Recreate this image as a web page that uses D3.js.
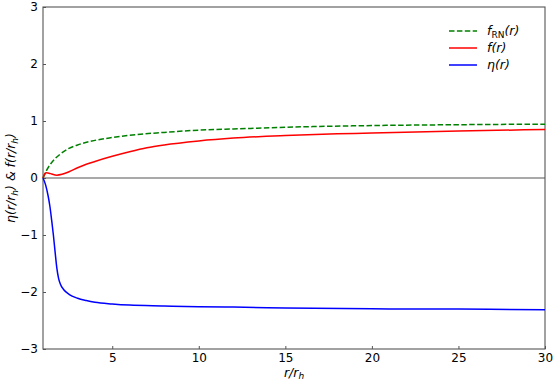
<!DOCTYPE html>
<html><head><meta charset="utf-8">
<script src="https://cdn.jsdelivr.net/npm/d3@7"></script>
<style>body{margin:0;background:#fff}text{font-family:"DejaVu Sans",sans-serif}</style>
</head><body>
<svg id="c" width="558" height="381"></svg>
<script>
const rGreen = [1, 1.2, 1.4, 1.7, 2, 2.5, 3, 4, 5, 6, 8, 10, 12, 15, 20, 25, 30];
const fRN =    [0, 0.13, 0.23, 0.34, 0.42, 0.52, 0.58, 0.66, 0.71, 0.75, 0.80, 0.84, 0.86, 0.89, 0.92, 0.935, 0.945];
const rRed = [1, 1.1, 1.2, 1.35, 1.5, 1.8, 2.1, 2.5, 3, 3.5, 4, 5, 6, 7, 8, 10, 12, 15, 18, 20, 25, 30];
const fVals = [0, 0.07, 0.09, 0.085, 0.07, 0.05, 0.065, 0.11, 0.18, 0.24, 0.29, 0.38, 0.46, 0.53, 0.58, 0.65, 0.70, 0.745, 0.775, 0.79, 0.825, 0.85];
const rBlue = [1, 1.15, 1.3, 1.4, 1.5, 1.6, 1.7, 1.8, 1.9, 2.0, 2.2, 2.5, 3, 3.5, 4, 5, 6, 8, 10, 12, 15, 20, 25, 30];
const etaVals = [0, -0.12, -0.32, -0.5, -0.74, -1.0, -1.3, -1.58, -1.76, -1.86, -1.96, -2.04, -2.11, -2.15, -2.18, -2.21, -2.23, -2.245, -2.26, -2.265, -2.28, -2.295, -2.30, -2.31];
const xTicks = [5, 10, 15, 20, 25, 30];
const yTicks = [-3, -2, -1, 0, 1, 2, 3];

const svg = d3.select("#c");
const L = 43, R = 545, T = 7, B = 349;
const x = d3.scaleLinear().domain([1, 30]).range([L, R]);
const y = d3.scaleLinear().domain([-3, 3]).range([B, T]);
const fmt = v => (v < 0 ? "\u2212" + Math.abs(v) : String(v));

// axes (ticks inward)
const yAx = svg.append("g").attr("transform", `translate(${L},0)`)
  .call(d3.axisLeft(y).tickValues(yTicks).tickSize(-3).tickPadding(5).tickFormat(fmt));
const xAx = svg.append("g").attr("transform", `translate(0,${B})`)
  .call(d3.axisBottom(x).tickValues(xTicks).tickSize(-3).tickPadding(4).tickFormat(fmt));
[yAx, xAx].forEach(g => {
  g.select(".domain").remove();
  g.selectAll("line").attr("stroke", "#555");
  g.selectAll("text").attr("font-size", 12).attr("fill", "#000").attr("font-family", "DejaVu Sans");
});
// frame
svg.append("rect").attr("x", L).attr("y", T).attr("width", R - L).attr("height", B - T)
  .attr("fill", "none").attr("stroke", "#555").attr("stroke-width", 1.1);
// zero line
svg.append("line").attr("x1", L).attr("x2", R).attr("y1", y(0)).attr("y2", y(0))
  .attr("stroke", "#555").attr("stroke-width", 1.2);

const line = d3.line().x(d => x(d[0])).y(d => y(d[1])).curve(d3.curveMonotoneX);
const series = [
  {r: rGreen, v: fRN, color: "#008000", dash: "5.5,2.4"},
  {r: rRed, v: fVals, color: "#ff0000", dash: null},
  {r: rBlue, v: etaVals, color: "#0000ff", dash: null}
];
series.forEach(s => {
  svg.append("path").datum(s.r.map((r, i) => [r, s.v[i]]))
    .attr("d", line).attr("fill", "none").attr("stroke", s.color)
    .attr("stroke-width", 1.5).attr("stroke-dasharray", s.dash);
});

// legend
const leg = svg.append("g");
const legY = [31, 48, 65];
series.forEach((s, i) => {
  leg.append("line").attr("x1", 449).attr("x2", 477).attr("y1", legY[i]).attr("y2", legY[i])
    .attr("stroke", s.color).attr("stroke-width", 1.5).attr("stroke-dasharray", s.dash);
});
const t0 = leg.append("text").attr("x", 487).attr("y", legY[0] + 4).attr("font-size", 12.5);
t0.append("tspan").attr("font-style", "italic").text("f");
t0.append("tspan").attr("font-size", 9).attr("dy", 2.5).text("RN");
t0.append("tspan").attr("dy", -2.5).attr("font-style", "italic").text("(r)");
const t1 = leg.append("text").attr("x", 487).attr("y", legY[1] + 4).attr("font-size", 12.5)
  .attr("font-style", "italic").text("f(r)");
const t2 = leg.append("text").attr("x", 487).attr("y", legY[2] + 4).attr("font-size", 12.5)
  .attr("font-style", "italic").text("\u03b7(r)");

// x label
const xl = svg.append("text").attr("x", 294).attr("y", 377).attr("text-anchor", "middle")
  .attr("font-size", 12.5).attr("font-style", "italic");
xl.append("tspan").text("r/r");
xl.append("tspan").attr("font-size", 9).attr("dy", 2).text("h");

// y label
const yl = svg.append("text").attr("transform", `translate(15,${y(0)}) rotate(-90)`)
  .attr("text-anchor", "middle").attr("font-size", 12.5).attr("font-style", "italic");
yl.append("tspan").text("\u03b7(r/r");
yl.append("tspan").attr("font-size", 9).attr("dy", 2.5).text("h");
yl.append("tspan").attr("dy", -2.5).text(") & f(r/r");
yl.append("tspan").attr("font-size", 9).attr("dy", 2.5).text("h");
yl.append("tspan").attr("dy", -2.5).text(")");
</script>
</body></html>
